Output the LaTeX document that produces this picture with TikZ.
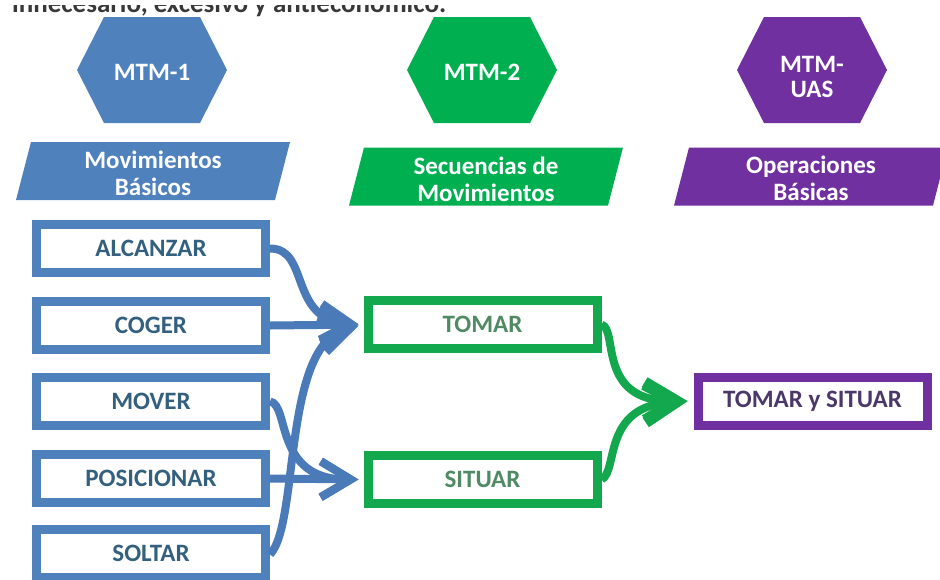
\documentclass[tikz,border=0pt]{standalone}
\usepackage{fontspec}
\setmainfont{Carlito}
\usetikzlibrary{arrows.meta}
\definecolor{mblue}{HTML}{4F81BD}
\definecolor{bline}{HTML}{4A7AB8}
\definecolor{mgreen}{HTML}{00B050}
\definecolor{gline}{HTML}{13A84E}
\definecolor{mpurple}{HTML}{7030A0}
\definecolor{tblue}{HTML}{33607E}
\definecolor{tgreen}{HTML}{4F8A63}
\definecolor{tpurple}{HTML}{4B3868}
\pgfdeclarelayer{background}
\pgfsetlayers{background,main}
\tikzset{
  bigfont/.style={font=\bfseries\fontsize{25}{27}\selectfont},
  pics/hexpic/.style={code={\fill[#1] (-75,0) -- (-48,-53) -- (48,-53) -- (75,0) -- (48,53) -- (-48,53) -- cycle;}},
  pics/parapic/.style={code={\fill[#1] (-137,29) -- (122,29) -- (137,-29) -- (-122,-29) -- cycle;}},
  whitetext/.style={bigfont, text=white, inner sep=0pt, align=center},
  boxnode/.style={bigfont, draw=#1, fill=white, line width=9pt, minimum width=229pt, minimum height=48pt, inner sep=0pt},
  vline/.style={draw=#1, line width=9pt},
  barrow/.style={draw=bline, line width=8pt, -{Straight Barb[length=30pt,width=36pt]}, shorten >=5pt},
  garrow/.style={draw=gline, line width=8pt, -{Straight Barb[length=32pt,width=38pt,line width=11pt]}, shorten >=6pt},
}
\begin{document}
\begin{tikzpicture}[x=1pt,y=-1pt]
\clip (0,0) rectangle (940,579);
\fill[white] (0,0) rectangle (940,579);
% partial text at the top, only its lower part visible
\node[font=\bfseries\fontsize{27}{30}\selectfont, text=black!78, anchor=base west, inner sep=0pt] (toptext) at (12,12.5) {innecesario, excesivo y antieconómico.};
\fill[white] (0,0) rectangle (940,5);
% shapes
\pic at (152,70) {hexpic=mblue};
\pic at (482,70) {hexpic=mgreen};
\pic at (812,70) {hexpic=mpurple};
\pic at (153,171) {parapic=mblue};
\pic at (486,176.5) {parapic=mgreen};
\pic at (811,176.5) {parapic=mpurple};
\node[whitetext] (h1) at (152,72) {MTM-1};
\node[whitetext] (h2) at (482,72) {MTM-2};
\node[whitetext, font=\bfseries\fontsize{25}{25}\selectfont] (h3) at (812,77) {MTM-\\UAS};
\node[whitetext] (p1) at (153,173) {Movimientos\\Básicos};
\node[whitetext] (p2) at (486,179) {Secuencias de\\Movimientos};
\node[whitetext] (p3) at (811,178) {Operaciones\\Básicas};
% boxes
\node[boxnode=mblue, text=tblue] (alc) at (151,248.5) {ALCANZAR};
\node[boxnode=mblue, text=tblue] (cog) at (151,325.5) {COGER};
\node[boxnode=mblue, text=tblue] (mov) at (151,401.5) {MOVER};
\node[boxnode=mblue, text=tblue] (pos) at (151,478.5) {POSICIONAR};
\node[boxnode=mblue, text=tblue] (sol) at (151,553.5) {SOLTAR};
\node[boxnode=gline, text=tgreen] (tom) at (482.5,324.5) {TOMAR};
\node[boxnode=gline, text=tgreen] (sit) at (482.5,479.5) {SITUAR};
\node[boxnode=mpurple, text=tpurple] (tsu) at (812.5,401) {TOMAR y SITUAR};
% vertical connectors
\begin{pgfonlayer}{background}
\draw[vline=mblue] (h1.center |- 0,100) -- (h1.center |- alc.center);
\draw[vline=mblue] (alc.center) -- (sol.center);
\draw[vline=mgreen] (h2.center |- 0,100) -- (h2.center |- tom.center);
\draw[vline=mgreen] (tom.center) -- (sit.center);
\draw[vline=mpurple] (h3.center |- 0,100) -- (h3.center |- tsu.center);
\end{pgfonlayer}
% arrows
\draw[barrow] (alc.east) .. controls +(40,0) and +(-75,-5) .. (tom.west);
\draw[barrow] (cog.east) -- (tom.west);
\draw[barrow] ([yshift=-1pt]sol.east) .. controls +(30,-32) and +(-82,20) .. (tom.west);
\draw[barrow] (mov.east) .. controls +(20,3) and +(-90,0) .. (sit.west);
\draw[barrow] (pos.east) -- (sit.west);
\draw[garrow] (tom.east) .. controls +(17,5) and +(-97,0) .. (tsu.west);
\draw[garrow] (sit.east) .. controls +(17,-8) and +(-92,5) .. (tsu.west);
\end{tikzpicture}
\end{document}
